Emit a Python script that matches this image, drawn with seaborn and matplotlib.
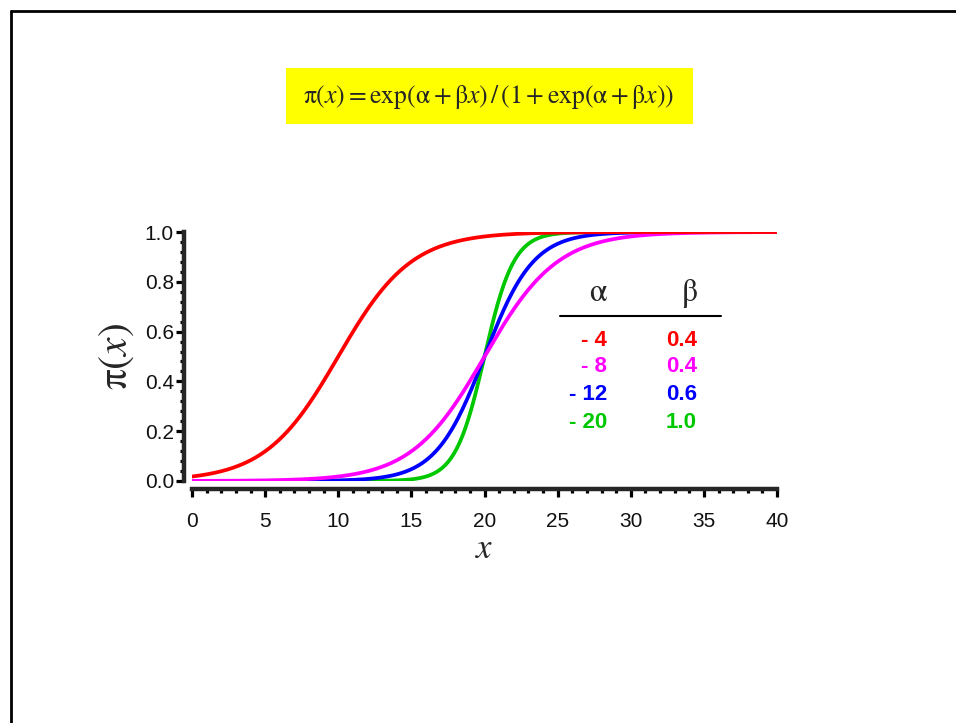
import numpy as np
import pandas as pd
import matplotlib.pyplot as plt
import seaborn as sns
from matplotlib.lines import Line2D
from matplotlib.patches import Rectangle
from matplotlib.ticker import MultipleLocator

# logistic curve parameters as given in the chart table
alpha = [-4, -8, -12, -20]
beta = [0.4, 0.4, 0.6, 1.0]
alpha_labels = ['- 4', '- 8', '- 12', '- 20']
beta_labels = ['0.4', '0.4', '0.6', '1.0']
colors = ['#ff0000', '#ff00ff', '#0000ff', '#00c800']
x_ticks = [0, 5, 10, 15, 20, 25, 30, 35, 40]
y_ticks = [0.0, 0.2, 0.4, 0.6, 0.8, 1.0]

x = np.linspace(0, 40, 401)
frames = []
for i, (a, b) in enumerate(zip(alpha, beta)):
    p = np.exp(a + b * x) / (1 + np.exp(a + b * x))
    frames.append(pd.DataFrame({'x': x, 'p': p, 'curve': i}))
df = pd.concat(frames, ignore_index=True)

sns.set_style('ticks')
plt.rcParams['font.family'] = ['Liberation Sans', 'DejaVu Sans']
plt.rcParams['mathtext.fontset'] = 'stix'

fig = plt.figure(figsize=(9.56, 7.23), dpi=100)
ax = fig.add_axes([192 / 956, 1 - 481 / 723, 585 / 956, 249 / 723])

# draw order: green, blue, magenta, red
for i in [3, 2, 1, 0]:
    sns.lineplot(data=df[df['curve'] == i], x='x', y='p', color=colors[i],
                 linewidth=2.7, ax=ax, legend=False)

ax.set_xlim(0, 40)
ax.set_ylim(0, 1)
ax.set_xticks(x_ticks)
ax.set_yticks(y_ticks)
ax.set_xticklabels([str(t) for t in x_ticks])
ax.set_yticklabels([f'{t:.1f}' for t in y_ticks])
ax.xaxis.set_minor_locator(MultipleLocator(1))
ax.yaxis.set_minor_locator(MultipleLocator(0.04))

for s in ['top', 'right']:
    ax.spines[s].set_visible(False)
for s in ['left', 'bottom']:
    ax.spines[s].set_linewidth(3.2)
    ax.spines[s].set_position(('outward', 6))
    ax.spines[s].set_capstyle('projecting')

ax.tick_params(which='major', direction='out', length=6, width=2.3,
               labelsize=15, color='black', labelcolor='#111111')
ax.tick_params(which='minor', direction='out', length=3, width=2.3, color='black')
ax.tick_params(axis='x', which='major', pad=10)
ax.tick_params(axis='y', which='major', pad=1)

ax.set_xlabel(r'$x$', fontsize=25, labelpad=1)
ax.set_ylabel(r'$\mathrm{\pi}(x)$', fontsize=30, labelpad=6)

# parameter table
fig.text(598 / 956, 1 - 293 / 723, r'$\mathrm{\alpha}$', fontsize=23, ha='center', va='center')
fig.text(689 / 956, 1 - 293 / 723, r'$\mathrm{\beta}$', fontsize=23, ha='center', va='center')
fig.add_artist(Line2D([560 / 956, 721 / 956], [1 - 316 / 723, 1 - 316 / 723],
                      color='black', linewidth=1.5))
row_y = [340, 367, 395, 422]
for i in range(4):
    fig.text(607 / 956, 1 - row_y[i] / 723, alpha_labels[i], color=colors[i],
             fontsize=16, fontweight='bold', ha='right', va='center')
    fig.text(697 / 956, 1 - row_y[i] / 723, beta_labels[i], color=colors[i],
             fontsize=16, fontweight='bold', ha='right', va='center')

# formula box
fig.add_artist(Rectangle((286 / 956, 1 - 124 / 723), 407 / 956, 56 / 723,
                         facecolor='#ffff00', edgecolor='none'))
fig.text(489 / 956, 1 - 97 / 723,
         r'$\mathrm{\pi}(x) = \mathrm{exp}(\mathrm{\alpha} + \mathrm{\beta} x)\,/\,'
         r'(1 + \mathrm{exp}(\mathrm{\alpha} + \mathrm{\beta} x))$',
         fontsize=18.5, ha='center', va='center')

# outer frame
fig.add_artist(Line2D([11 / 956, 1.0], [1 - 11 / 723, 1 - 11 / 723], color='black', linewidth=2))
fig.add_artist(Line2D([11 / 956, 11 / 956], [0, 1 - 11 / 723], color='black', linewidth=2))

fig.savefig('out.png', dpi=100)
